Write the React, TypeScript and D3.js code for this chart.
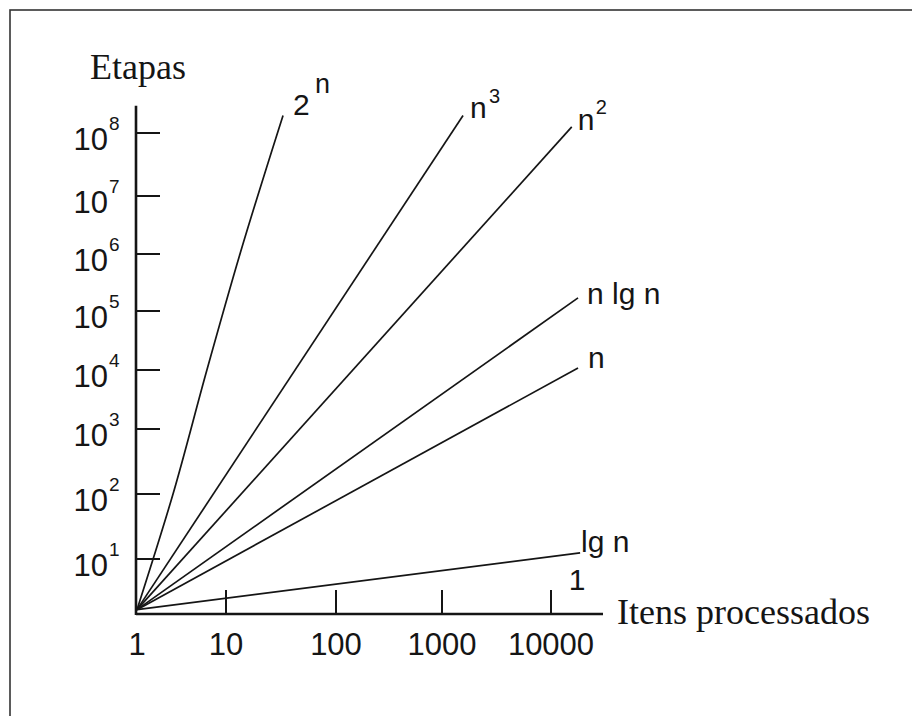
import React from 'react';
import * as d3 from 'd3';

// Axis decades (hand drawn, so the spacing is not perfectly even)
const xDecades = [1, 10, 100, 1000, 10000];
const xDecadePx = [137, 226, 336, 442, 551];
const yDecades = [1, 1e1, 1e2, 1e3, 1e4, 1e5, 1e6, 1e7, 1e8];
const yDecadePx = [614, 559, 494, 429, 370, 311, 254, 196, 133];

const xTickLabels = ['1', '10', '100', '1000', '10000'];
const yTickExponents = ['1', '2', '3', '4', '5', '6', '7', '8'];

const xAxisMax = 30000;
const yAxisMax = 2.7e8;

// Series: n (itens) and steps (etapas)
const expN = [1, 2.54, 6.1, 13.4, 33];
const expSteps = [1.2, 100, 1e4, 1e6, 1.9e8];
const cubeN = [1, 1560];
const cubeSteps = [1.2, 1.9e8];
const squareN = [1, 15500];
const squareSteps = [1.2, 1.25e8];
const nlognN = [1, 17700];
const nlognSteps = [1.2, 1.7e5];
const linearN = [1, 17700];
const linearSteps = [1.2, 1.08e4];
const lognN = [1, 18500];
const lognSteps = [1.2, 12.4];

const seriesNames = ['2^n', 'n^3', 'n^2', 'n lg n', 'n', 'lg n'];
const seriesN = [expN, cubeN, squareN, nlognN, linearN, lognN];
const seriesSteps = [expSteps, cubeSteps, squareSteps, nlognSteps, linearSteps, lognSteps];

// label placement relative to the end of each line
const labelLayout: Record<string, { dx: number; dy: number; base: string; sup?: string; supDx?: number; supDy?: number; supSize?: number }> = {
  '2^n': { dx: 10, dy: 0, base: '2', sup: 'n', supDx: 32, supDy: -22, supSize: 27 },
  'n^3': { dx: 7, dy: 3, base: 'n', sup: '3', supDx: 26, supDy: -15, supSize: 20 },
  'n^2': { dx: 6, dy: 3, base: 'n', sup: '2', supDx: 24, supDy: -16, supSize: 20 },
  'n lg n': { dx: 9, dy: 6, base: 'n lg n' },
  'n': { dx: 10, dy: 0, base: 'n' },
  'lg n': { dx: 1, dy: -1, base: 'lg n' },
};

const SANS = '"Liberation Sans", Arial, sans-serif';
const SERIF = '"Liberation Serif", "Times New Roman", serif';
const INK = '#151515';

export default function App() {
  const width = 912;
  const height = 716;

  const x = d3.scaleLog().domain(xDecades).range(xDecadePx);
  const y = d3.scaleLog().domain(yDecades).range(yDecadePx);

  const line = d3
    .line<[number, number]>()
    .x((d) => x(d[0]))
    .y((d) => y(d[1]))
    .curve(d3.curveMonotoneY);

  const x0 = x(1) - 1;
  const y0 = y(1);

  return (
    <svg
      width={width}
      height={height}
      style={{ position: 'absolute', left: 0, top: 0, background: '#fff' }}
    >
      <rect x={0} y={0} width={width} height={height} fill="#fff" />
      {/* frame */}
      <rect x={10} y={10} width={1000} height={1000} fill="none" stroke="#333" strokeWidth={1.6} />

      {/* axis titles */}
      <text x={90} y={79} fontFamily={SERIF} fontSize={36} fill={INK}>
        Etapas
      </text>
      <text x={617} y={624} fontFamily={SERIF} fontSize={36} fill={INK}>
        Itens processados
      </text>

      {/* axes */}
      <line x1={x0} y1={y0} x2={x(xAxisMax)} y2={y0} stroke={INK} strokeWidth={2.6} />
      <line x1={x0} y1={y0 + 1} x2={x0} y2={y(yAxisMax)} stroke={INK} strokeWidth={2.6} />

      {/* x ticks */}
      {xDecades.map((d, i) => (
        <g key={`xt${i}`}>
          {i > 0 && (
            <line x1={x(d)} x2={x(d)} y1={y0} y2={y0 - 24} stroke={INK} strokeWidth={2} />
          )}
          <text
            x={x(d)}
            y={y0 + 41}
            textAnchor="middle"
            fontFamily={SANS}
            fontSize={31}
            fill={INK}
          >
            {xTickLabels[i]}
          </text>
        </g>
      ))}

      {/* y ticks */}
      {yDecades.slice(1).map((d, i) => (
        <g key={`yt${i}`}>
          <line x1={x0} x2={x0 + 24} y1={y(d)} y2={y(d)} stroke={INK} strokeWidth={2} />
          <text x={108} y={y(d) + 17} textAnchor="end" fontFamily={SANS} fontSize={31} fill={INK}>
            10
          </text>
          <text x={109} y={y(d) - 3} fontFamily={SANS} fontSize={19} fill={INK}>
            {yTickExponents[i]}
          </text>
        </g>
      ))}

      {/* growth curves */}
      {seriesNames.map((name, i) => {
        const pts = seriesN[i].map((n, j) => [n, seriesSteps[i][j]] as [number, number]);
        const end = pts[pts.length - 1];
        const lay = labelLayout[name];
        const lx = x(end[0]) + lay.dx;
        const ly = y(end[1]) + lay.dy;
        return (
          <g key={name}>
            <path d={line(pts) || ''} fill="none" stroke={INK} strokeWidth={1.7} />
            <text x={lx} y={ly} fontFamily={SANS} fontSize={30} fill={INK}>
              {lay.base}
            </text>
            {lay.sup && (
              <text
                x={x(end[0]) + (lay.supDx || 0)}
                y={ly + (lay.supDy || 0)}
                fontFamily={SANS}
                fontSize={lay.supSize}
                fill={INK}
              >
                {lay.sup}
              </text>
            )}
          </g>
        );
      })}

      {/* constant-time label sits on the x axis */}
      <text x={x(lognN[1]) - 3} y={590} textAnchor="middle" fontFamily={SANS} fontSize={30} fill={INK}>
        1
      </text>
    </svg>
  );
}
